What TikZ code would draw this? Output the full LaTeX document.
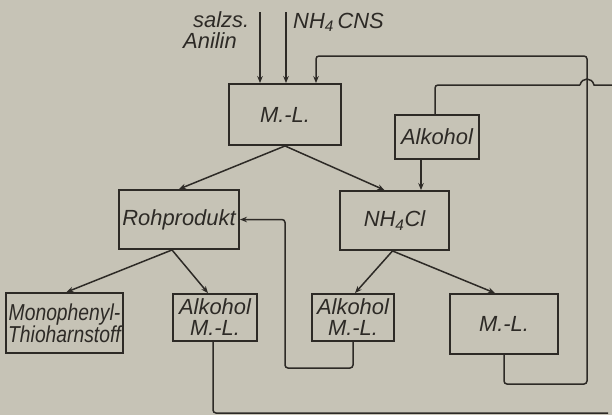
\documentclass[tikz,border=0pt]{standalone}
\usepackage{fontspec}
\usepackage{graphicx}
\setmainfont{Liberation Sans}
\usetikzlibrary{arrows.meta,calc}
\definecolor{paper}{RGB}{198,195,182}
\definecolor{ink}{RGB}{45,42,38}
\begin{document}
\begin{tikzpicture}[x=1bp,y=-1bp,
  box/.style={draw=ink,line width=1.9bp,inner sep=0pt,align=center,text=ink,
    font=\fontsize{22}{21}\selectfont\itshape},
  lbl/.style={inner sep=0pt,text=ink,font=\fontsize{22}{21}\selectfont\itshape},
  conn/.style={draw=ink,line width=1.5bp},
  arr/.style={conn,-{Stealth[length=7bp,width=5.5bp]}}]
\fill[paper] (0,0) rectangle (612,415);
\useasboundingbox (0,0) rectangle (612,415);

% boxes
\node[box,minimum width=112bp,minimum height=61bp] (ml) at (285,114.5) {M.-L.};
\node[box,minimum width=84bp,minimum height=44bp] (alk) at (437,137) {Alkohol};
\node[box,minimum width=120bp,minimum height=59bp] (roh) at (179,219.5) {Rohprodukt};
\node[box,minimum width=109bp,minimum height=59bp] (nh) at (394.5,220.5) {NH\textsubscript{4}Cl};
\node[box,minimum width=117bp,minimum height=60bp] (mono) at (64.5,323) {\scalebox{0.88}[1.05]{Monophenyl-}\\\scalebox{0.88}[1.05]{Thioharnstoff}};
\node[box,minimum width=84bp,minimum height=47bp] (am1) at (215,317.5) {Alkohol\\M.-L.};
\node[box,minimum width=82bp,minimum height=47bp] (am2) at (353,317.5) {Alkohol\\M.-L.};
\node[box,minimum width=108bp,minimum height=60bp] (ml2) at (504,324) {M.-L.};

% input labels
\node[lbl,anchor=base west] (t1) at (193,27) {salzs.};
\node[lbl,anchor=base west] (t2) at (183,48) {Anilin};
\node[lbl,anchor=base west] (t3) at (293,28) {NH\textsubscript{4}\,CNS};

% inputs
\coordinate (in1) at (260,12);
\coordinate (in2) at (286,12);
\draw[arr] (in1) -- (in1 |- ml.north);
\draw[arr] (in2) -- (in2 |- ml.north);

% from M.-L.
\draw[arr] (ml.south) -- (roh.north);
\draw[arr] (ml.south) -- ([xshift=-10bp]nh.north);

% Alkohol -> NH4Cl
\coordinate (a1) at ([xshift=-16bp]alk.south);
\draw[arr] (a1) -- (a1 |- nh.north);

% Alkohol feed from outside with hop
\coordinate (in3) at (612,85);
\coordinate (hopR) at (594,85);
\coordinate (hopL) at (580,85);
\draw[conn] (in3) -- (hopR) .. controls (592,77) and (582,77) .. (hopL);
\draw[conn,rounded corners=3bp] (hopL) -| ([xshift=-2bp]alk.north);

% from Rohprodukt
\draw[arr] ([xshift=-7bp]roh.south) -- ([xshift=2bp]mono.north);
\draw[arr] ([xshift=-7bp]roh.south) -- ([xshift=-7bp]am1.north);

% from NH4Cl
\draw[arr] ([xshift=-2bp]nh.south) -- ([xshift=2bp]am2.north);
\draw[arr] ([xshift=-2bp]nh.south) -- ([xshift=-9bp]ml2.north);

% Alkohol M.-L. (middle) back to Rohprodukt
\coordinate (lp1) at (285,368);
\draw[arr,rounded corners=3bp] (am2.south) |- (lp1) |- (roh.east);

% Alkohol M.-L. (left) out
\coordinate (out1) at (608,413);
\draw[conn,rounded corners=3bp] ([xshift=-2bp]am1.south) |- (out1);

% M.-L. (right) back to M.-L.
\coordinate (r1) at (587,384);
\coordinate (r2) at (587,56);
\coordinate (r3) at (316,56);
\draw[arr,rounded corners=3bp] (ml2.south) |- (r1) -- (r2) -- (r3) -- (r3 |- ml.north);
\end{tikzpicture}
\end{document}
